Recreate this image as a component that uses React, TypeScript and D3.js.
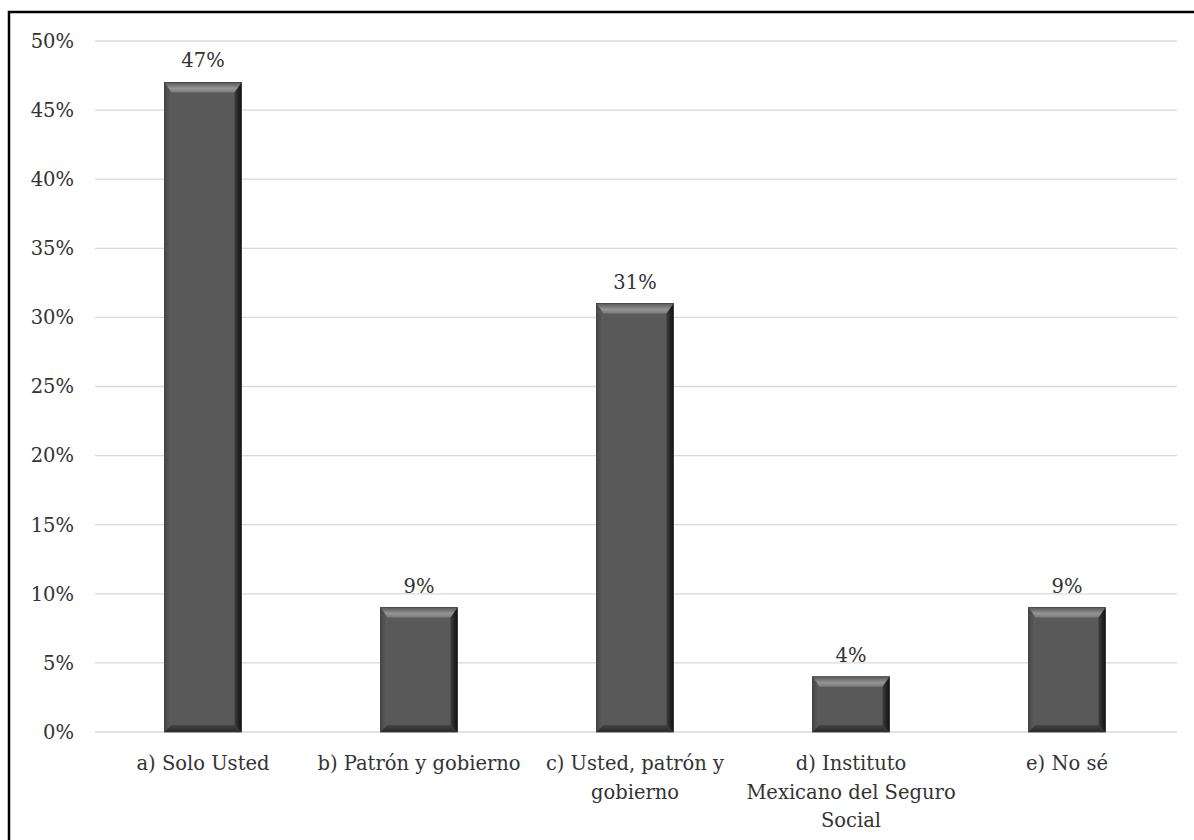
import React from "react";
import * as d3 from "d3";

const categories: string[][] = [
  ["a) Solo Usted"],
  ["b) Patrón y gobierno"],
  ["c) Usted, patrón y", "gobierno"],
  ["d) Instituto", "Mexicano del Seguro", "Social"],
  ["e) No sé"],
];
const values = [0.47, 0.09, 0.31, 0.04, 0.09];
const valueLabels = ["47%", "9%", "31%", "4%", "9%"];
const ticks = [0, 0.05, 0.1, 0.15, 0.2, 0.25, 0.3, 0.35, 0.4, 0.45, 0.5];

const W = 1194;
const H = 840;
const left = 95;
const right = 1175;
const top = 41;
const bottom = 732;
const FONT = "'DejaVu Serif', serif";
const FS = 19.5;
const COLOR = "#333333";

export default function App() {
  const x = d3
    .scaleBand<number>()
    .domain(values.map((_, i) => i))
    .range([left, right])
    .paddingInner(0.643)
    .paddingOuter(0.3215);
  const y = d3.scaleLinear().domain([0, 0.5]).range([bottom, top]);
  const fmt = d3.format(".0%");
  const bw = x.bandwidth();
  const bt = 10;
  const bs = 7;

  return (
    <svg
      width={W}
      height={H}
      style={{ position: "absolute", left: 0, top: 0, background: "#fff" }}
    >
      <defs>
        <linearGradient id="topG" x1="0" y1="0" x2="0" y2="1">
          <stop offset="0" stopColor="#5a5a5a" />
          <stop offset="0.6" stopColor="#959595" />
          <stop offset="1" stopColor="#7a7a7a" />
        </linearGradient>
        <linearGradient id="rightG" x1="0" y1="0" x2="1" y2="0">
          <stop offset="0" stopColor="#3c3c3c" />
          <stop offset="1" stopColor="#111" />
        </linearGradient>
        <linearGradient id="leftG" x1="0" y1="0" x2="1" y2="0">
          <stop offset="0" stopColor="#474747" />
          <stop offset="1" stopColor="#5e5e5e" />
        </linearGradient>
        <linearGradient id="botG" x1="0" y1="0" x2="0" y2="1">
          <stop offset="0" stopColor="#464646" />
          <stop offset="1" stopColor="#262626" />
        </linearGradient>
      </defs>
      <rect x={9} y={12} width={1200} height={840} fill="none" stroke="#000" strokeWidth={2.5} />
      {ticks.map((t) => (
        <g key={t}>
          <line x1={left} x2={right + 2} y1={y(t)} y2={y(t)} stroke="#d9d9d9" strokeWidth={1.3} />
          <text
            x={74}
            y={y(t)}
            dy="0.35em"
            textAnchor="end"
            fontFamily={FONT}
            fontSize={FS}
            fill={COLOR}
          >
            {fmt(t)}
          </text>
        </g>
      ))}
      {values.map((v, i) => {
        const x0 = x(i)!;
        const x1 = x0 + bw;
        const y0 = y(v);
        const y1 = y(0);
        return (
          <g key={i}>
            <rect x={x0} y={y0} width={bw} height={y1 - y0} fill="#595959" />
            <polygon
              points={`${x0},${y0} ${x1},${y0} ${x1 - bs},${y0 + bt} ${x0 + bs},${y0 + bt}`}
              fill="url(#topG)"
            />
            <polygon
              points={`${x0},${y0} ${x0 + bs},${y0 + bt} ${x0 + bs},${y1 - bs} ${x0},${y1}`}
              fill="url(#leftG)"
            />
            <polygon
              points={`${x1},${y0} ${x1},${y1} ${x1 - bs},${y1 - bs} ${x1 - bs},${y0 + bt}`}
              fill="url(#rightG)"
            />
            <polygon
              points={`${x0},${y1} ${x0 + bs},${y1 - bs} ${x1 - bs},${y1 - bs} ${x1},${y1}`}
              fill="url(#botG)"
            />
            <rect x={x0} y={y0} width={bw} height={y1 - y0} fill="none" stroke="#3a3a3a" strokeWidth={0.8} />
            <text
              x={x0 + bw / 2}
              y={y0 - 15}
              textAnchor="middle"
              fontFamily={FONT}
              fontSize={FS}
              fill={COLOR}
            >
              {valueLabels[i]}
            </text>
            {categories[i].map((line, j) => (
              <text
                key={j}
                x={x0 + bw / 2}
                y={770 + j * 28.5}
                textAnchor="middle"
                fontFamily={FONT}
                fontSize={FS}
                fill={COLOR}
              >
                {line}
              </text>
            ))}
          </g>
        );
      })}
    </svg>
  );
}
